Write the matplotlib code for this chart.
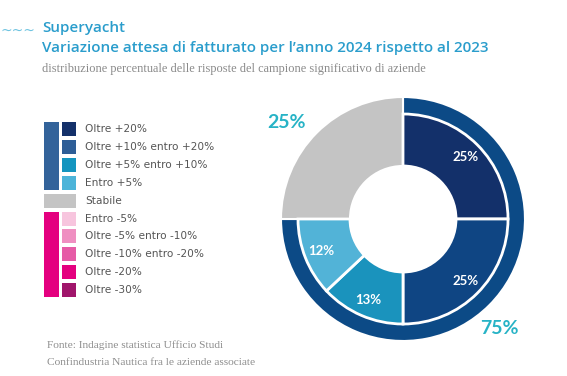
import matplotlib.pyplot as plt
import numpy as np

# Legend entries (top to bottom)
legend_labels = [
    "Oltre +20%", "Oltre +10% entro +20%", "Oltre +5% entro +10%", "Entro +5%",
    "Stabile",
    "Entro -5%", "Oltre -5% entro -10%", "Oltre -10% entro -20%", "Oltre -20%", "Oltre -30%",
]
legend_colors = [
    "#14316a", "#2e5e97", "#1495bf", "#4cb4d9",
    "#c4c4c4",
    "#f7c5de", "#ef8fc1", "#e65ba6", "#e4007f", "#a0156b",
]

# Donut values: inner segments from 12 o'clock clockwise, then stabile
segment_values = [25, 25, 13, 12]
segment_colors = ["#13306a", "#0f4583", "#1a93bd", "#52b3d7"]
stabile_value = 25
growth_total = 75

ring_blue = "#0c4a86"
grey = "#c4c4c4"
teal = "#27b3c6"
title_blue = "#2a9dcc"

W, H = 567, 376
fig = plt.figure(figsize=(W / 100, H / 100), dpi=100)

# background axes in pixel coordinates (y downwards)
bg = fig.add_axes([0, 0, 1, 1])
bg.set_xlim(0, W)
bg.set_ylim(H, 0)
bg.axis("off")

# titles
bg.text(0, 31, "~~~", color="#6cc3e0", fontsize=10, va="center", ha="left")
bg.text(42, 32, "Superyacht", color=title_blue, fontsize=10.9, fontweight="semibold",
        family="Open Sans", va="baseline")
bg.text(42, 52, "Variazione attesa di fatturato per l\u2019anno 2024 rispetto al 2023",
        color=title_blue, fontsize=10.9, fontweight="semibold", family="Open Sans",
        va="baseline")
bg.text(42, 72, "distribuzione percentuale delle risposte del campione significativo di aziende",
        color="#8a8a8a", fontsize=8.95, family="Liberation Serif", va="baseline")

# footer
bg.text(47, 348, "Fonte: Indagine statistica Ufficio Studi", color="#8e8e8e",
        fontsize=8.2, family="Liberation Serif", va="baseline")
bg.text(47, 365, "Confindustria Nautica fra le aziende associate", color="#8e8e8e",
        fontsize=8.2, family="Liberation Serif", va="baseline")

# legend
row0, step, sq = 129, 17.9, 14
rows = row0 + step * np.arange(len(legend_labels))
stab = legend_labels.index("Stabile")
for i, (lab, col) in enumerate(zip(legend_labels, legend_colors)):
    if i == stab:
        bg.barh(rows[i], 32, left=44, height=sq, color=col)
    else:
        bg.barh(rows[i], sq, left=62, height=sq, color=col)
    bg.text(85, rows[i], lab, color="#555555", fontsize=7.6, family="DejaVu Sans",
            va="center", ha="left")
# group bars
pos_top, pos_bot = rows[0] - sq / 2, rows[stab - 1] + sq / 2
neg_top, neg_bot = rows[stab + 1] - sq / 2, rows[-1] + sq / 2
bg.barh((pos_top + pos_bot) / 2, 15, left=44, height=pos_bot - pos_top, color="#33639a")
bg.barh((neg_top + neg_bot) / 2, 15, left=44, height=neg_bot - neg_top, color="#e4007f")

# donut axes (pixel units, centred on donut)
cx, cy, half = 403, 219, 150
ax = fig.add_axes([(cx - half) / W, (H - cy - half) / H, 2 * half / W, 2 * half / H])

outer, _ = ax.pie([growth_total, stabile_value], radius=122, colors=[ring_blue, grey],
                  startangle=90, counterclock=False,
                  wedgeprops=dict(width=69, edgecolor="white", linewidth=1.5))
inner, _ = ax.pie(segment_values + [stabile_value], radius=105,
                  colors=segment_colors + ["none"], startangle=90, counterclock=False,
                  wedgeprops=dict(width=52, edgecolor="white", linewidth=2))
inner[-1].set_visible(False)

for w, v in zip(inner[:-1], segment_values):
    th = np.deg2rad((w.theta1 + w.theta2) / 2)
    ax.text(88 * np.cos(th), 88 * np.sin(th), f"{v}%", color="white", fontsize=9.5,
            fontweight="bold", family="Lato", ha="center", va="center")

ax.text(96, -109, f"{growth_total}%", color=teal, fontsize=14, fontweight="bold",
        family="Lato", ha="center", va="center")
ax.text(-117, 96, f"{stabile_value}%", color=teal, fontsize=14, fontweight="bold",
        family="Lato", ha="center", va="center")

ax.set_xlim(-half, half)
ax.set_ylim(-half, half)
ax.set_aspect("equal")
ax.axis("off")

fig.savefig("out.png", dpi=100)
